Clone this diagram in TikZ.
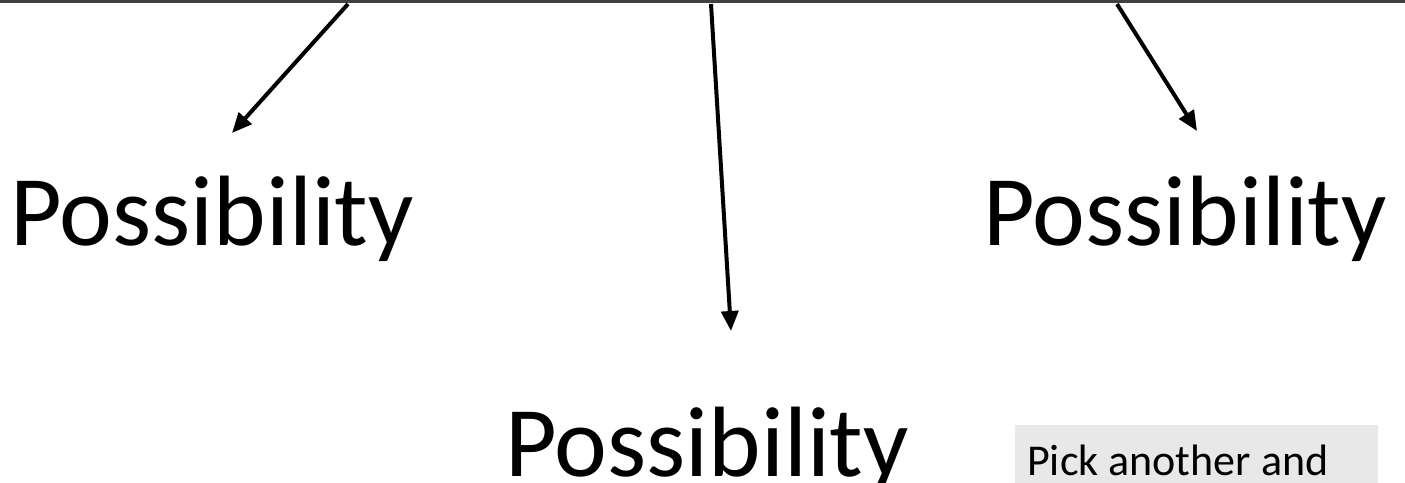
\documentclass[tikz,border=0pt]{standalone}
\usepackage{fontspec}
\setmainfont{Carlito}
\usetikzlibrary{arrows.meta}
\begin{document}
\begin{tikzpicture}[x=1pt,y=-1pt,
  bigtext/.style={inner sep=0pt,anchor=base west,font=\fontsize{100}{100}\selectfont},
  arr/.style={line width=4pt,-{Triangle[length=20pt,width=17pt]}},
  notebox/.style={fill=black!9,draw=none,minimum width=363pt,minimum height=70pt,anchor=north west,inner sep=0pt}]
\useasboundingbox (0,0) rectangle (1405,482);
\fill[black!75] (0,0) rectangle (1405,3);
\coordinate (s1) at (348,4);
\coordinate (s2) at (711,4);
\coordinate (s3) at (1117,4);
\coordinate (e1) at (232,133);
\coordinate (e2) at (731,331);
\coordinate (e3) at (1197,131);
\node[bigtext] (p1) at (10,245) {Possibility};
\node[bigtext] (p2) at (505,476) {Possibility};
\node[bigtext] (p3) at (983,245) {Possibility};
\node[notebox] (box) at (1015,425) {};
\node[inner sep=0pt,anchor=base west,font=\fontsize{44}{44}\selectfont] (t) at (1027,475) {Pick another and};
\draw[arr] (s1) -- (e1);
\draw[arr] (s2) -- (e2);
\draw[arr] (s3) -- (e3);
\end{tikzpicture}
\end{document}
